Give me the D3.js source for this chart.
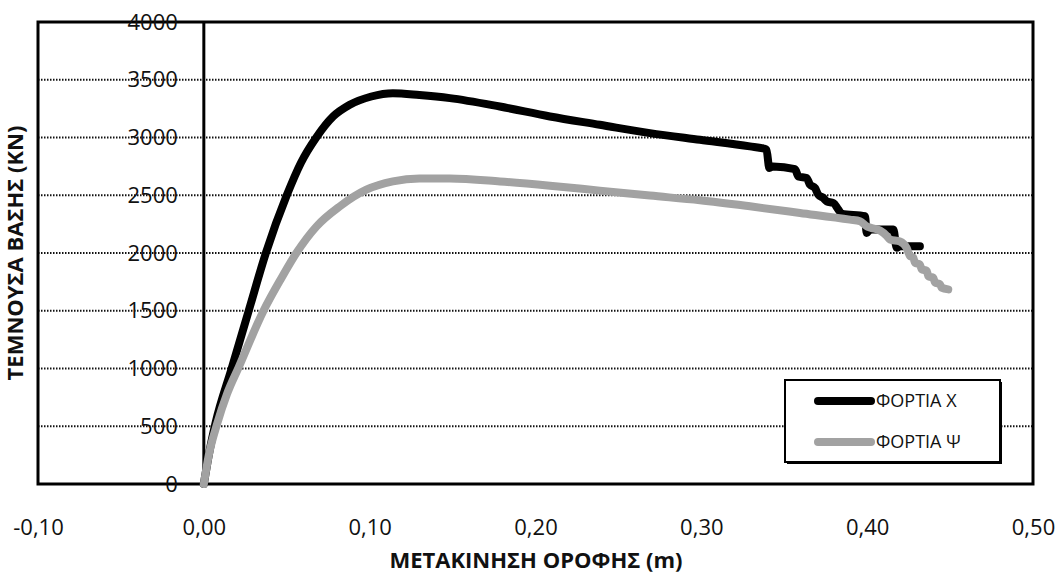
<!DOCTYPE html>
<html>
<head>
<meta charset="utf-8">
<script src="https://cdn.jsdelivr.net/npm/d3@7"></script>
<style>
  body { margin: 0; background: #fff; }
  svg text { font-family: "Open Sans", sans-serif; fill: #111; }
</style>
</head>
<body>
<div id="chart"></div>
<script>
// series X (black)
const xDispX = [0, 0.0035, 0.0070, 0.0168, 0.0270, 0.0375, 0.0500, 0.0585, 0.068, 0.078, 0.088, 0.101, 0.114, 0.130, 0.1484, 0.1785, 0.2087, 0.2388, 0.269, 0.2992, 0.3293, 0.3374, 0.3393, 0.3410, 0.3432, 0.3565, 0.3585, 0.3635, 0.3655, 0.3685, 0.3705, 0.3735, 0.3756, 0.3796, 0.3826, 0.3846, 0.3987, 0.3997, 0.4017, 0.4158, 0.4178, 0.4198, 0.4318];
const xShear = [0, 290, 525, 1002, 1497, 2004, 2499, 2779, 3004, 3182, 3283, 3355, 3384, 3368, 3341, 3268, 3182, 3110, 3038, 2980, 2923, 2905, 2894, 2736, 2750, 2727, 2663, 2650, 2592, 2563, 2505, 2477, 2447, 2433, 2376, 2341, 2318, 2174, 2203, 2203, 2045, 2059, 2059];

// series Y (gray)
const yDisp = [0, 0.003, 0.0080, 0.014, 0.0210, 0.0360, 0.0463, 0.0559, 0.068, 0.082, 0.098, 0.114, 0.130, 0.1484, 0.1785, 0.2087, 0.2388, 0.269, 0.2992, 0.3293, 0.3595, 0.3896, 0.3957, 0.3997, 0.4017, 0.4077, 0.4117, 0.4137, 0.4198, 0.4238, 0.4258, 0.4278, 0.4288, 0.4318, 0.4328, 0.4359, 0.4369, 0.4399, 0.4409, 0.4439, 0.4449, 0.4489];
const yShear = [0, 250, 520, 780, 1010, 1500, 1771, 2002, 2231, 2404, 2548, 2620, 2645, 2645, 2620, 2583, 2540, 2497, 2456, 2404, 2347, 2289, 2275, 2232, 2220, 2195, 2150, 2117, 2100, 2045, 1975, 1960, 1915, 1900, 1860, 1845, 1800, 1785, 1745, 1730, 1700, 1685];

// ticks
const xTicks = [-0.1, 0, 0.1, 0.2, 0.3, 0.4, 0.5];
const xTickLabels = ["-0,10", "0,00", "0,10", "0,20", "0,30", "0,40", "0,50"];
const yTicks = [0, 500, 1000, 1500, 2000, 2500, 3000, 3500, 4000];

const seriesNames = ["ΦΟΡΤΙΑ X", "ΦΟΡΤΙΑ Ψ"];

const W = 1059, H = 574;
const plotLeft = 38, plotRight = 1033, plotTop = 22, plotBottom = 484;

const svg = d3.select("#chart").append("svg")
    .attr("width", W)
    .attr("height", H);

const xScale = d3.scaleLinear().domain([-0.1, 0.5]).range([plotLeft, plotRight]);
const yScale = d3.scaleLinear().domain([0, 4000]).range([plotBottom, plotTop]);

// dotted gridlines
svg.append("g")
    .selectAll("line")
    .data(yTicks.filter(d => d > 0 && d < 4000))
    .enter()
    .append("line")
    .attr("x1", plotLeft)
    .attr("x2", plotRight)
    .attr("y1", d => yScale(d))
    .attr("y2", d => yScale(d))
    .attr("stroke", "#111")
    .attr("stroke-width", 2)
    .attr("stroke-dasharray", "1.5,1.5");

// plot border
svg.append("rect")
    .attr("x", plotLeft)
    .attr("y", plotTop)
    .attr("width", plotRight - plotLeft)
    .attr("height", plotBottom - plotTop)
    .attr("fill", "none")
    .attr("stroke", "#000")
    .attr("stroke-width", 3);

// y axis at x = 0
const yAxis = d3.axisLeft(yScale).tickValues(yTicks).tickSize(0).tickPadding(26).tickFormat(d => d);
const gy = svg.append("g")
    .attr("transform", "translate(" + xScale(0) + ",0)")
    .call(yAxis);
gy.select(".domain").remove();
gy.selectAll("text")
    .style("font-size", "22px")
    .style("font-family", "'Open Sans', sans-serif")
    .attr("fill", "#111");

svg.append("line")
    .attr("x1", xScale(0)).attr("x2", xScale(0))
    .attr("y1", plotTop).attr("y2", plotBottom)
    .attr("stroke", "#000")
    .attr("stroke-width", 3);

// x axis
const xAxis = d3.axisBottom(xScale).tickValues(xTicks).tickSize(0)
    .tickFormat((d, i) => xTickLabels[i]);
const gx = svg.append("g")
    .attr("transform", "translate(0," + plotBottom + ")")
    .call(xAxis);
gx.select(".domain").remove();
gx.selectAll("text")
    .attr("y", 43)
    .attr("dy", "0.35em")
    .style("font-size", "22px")
    .style("font-family", "'Open Sans', sans-serif")
    .attr("fill", "#111");

// lines
const line = d3.line()
    .x(d => xScale(d[0]))
    .y(d => yScale(d[1]))
    .curve(d3.curveMonotoneX);

const dataX = xDispX.map((d, i) => [d, xShear[i]]);
const dataY = yDisp.map((d, i) => [d, yShear[i]]);

svg.append("path")
    .datum(dataX)
    .attr("d", line)
    .attr("fill", "none")
    .attr("stroke", "#000")
    .attr("stroke-width", 8)
    .attr("stroke-linejoin", "round")
    .attr("stroke-linecap", "round");

svg.append("path")
    .datum(dataY)
    .attr("d", line)
    .attr("fill", "none")
    .attr("stroke", "#a2a2a2")
    .attr("stroke-width", 8)
    .attr("stroke-linejoin", "round")
    .attr("stroke-linecap", "round");

// axis titles
svg.append("text")
    .attr("x", 536)
    .attr("y", 568)
    .attr("text-anchor", "middle")
    .style("font-size", "22px")
    .style("font-weight", "bold")
    .text("ΜΕΤΑΚΙΝΗΣΗ ΟΡΟΦΗΣ (m)");

svg.append("text")
    .attr("transform", "translate(23,253) rotate(-90)")
    .attr("text-anchor", "middle")
    .style("font-size", "22px")
    .style("font-weight", "bold")
    .text("ΤΕΜΝΟΥΣΑ ΒΑΣΗΣ (KN)");

// legend
const legend = svg.append("g");
legend.append("rect")
    .attr("x", 787).attr("y", 382)
    .attr("width", 215).attr("height", 82)
    .attr("fill", "#000");
legend.append("rect")
    .attr("x", 785).attr("y", 380)
    .attr("width", 215).attr("height", 82)
    .attr("fill", "#fff")
    .attr("stroke", "#000")
    .attr("stroke-width", 2);

const legendColors = ["#000", "#a2a2a2"];
const legendY = [401, 442];
seriesNames.forEach((name, i) => {
    legend.append("line")
        .attr("x1", 818).attr("x2", 871)
        .attr("y1", legendY[i]).attr("y2", legendY[i])
        .attr("stroke", legendColors[i])
        .attr("stroke-width", 8)
        .attr("stroke-linecap", "round");
    legend.append("text")
        .attr("x", 876)
        .attr("y", legendY[i])
        .attr("dy", "0.35em")
        .style("font-size", "18px")
        .text(name);
});
</script>
</body>
</html>
